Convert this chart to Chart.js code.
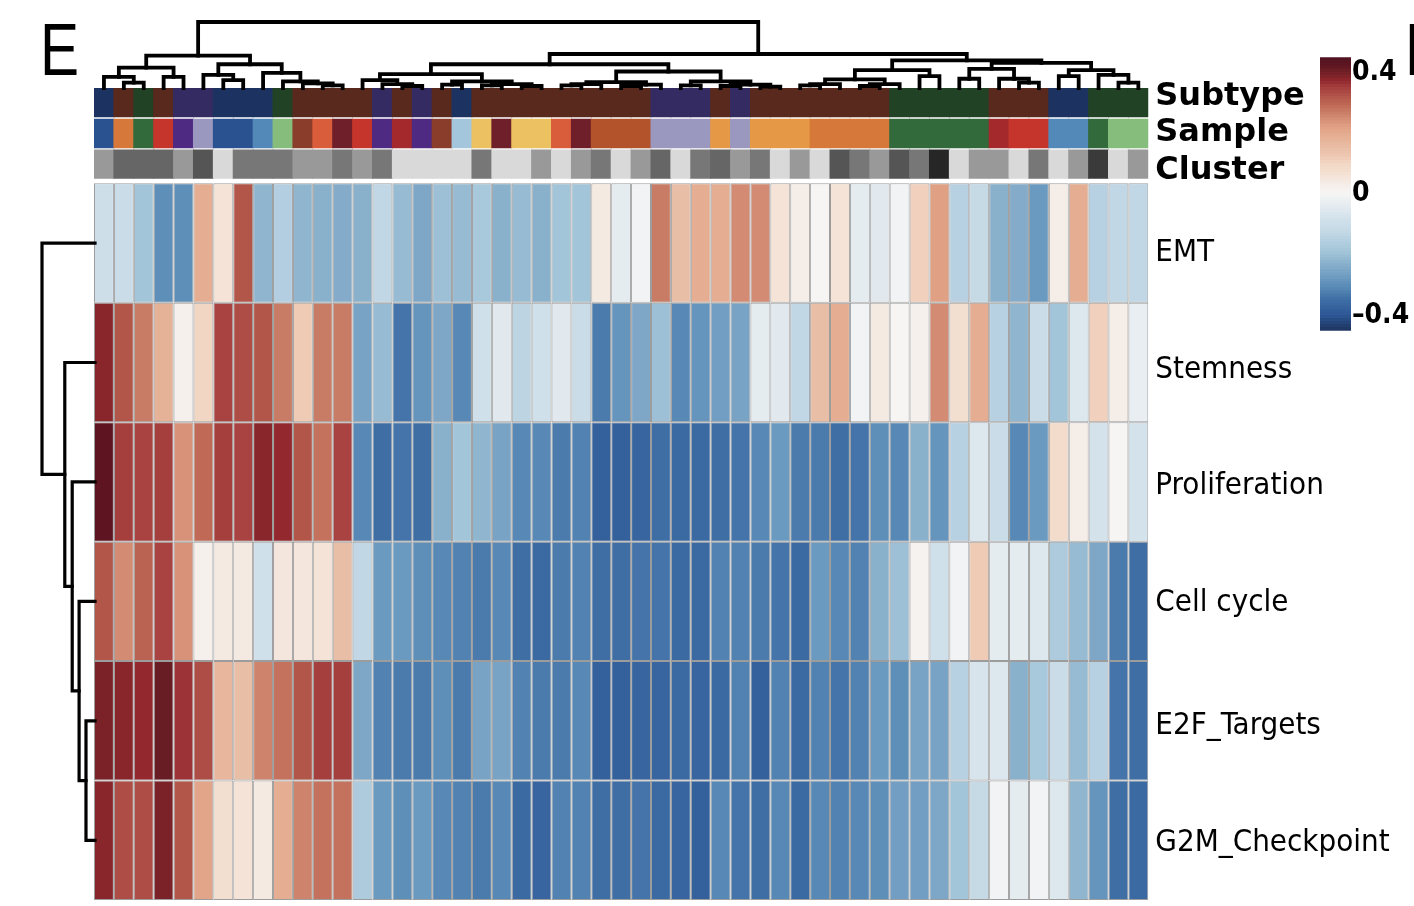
<!DOCTYPE html>
<html>
<head>
<meta charset="utf-8">
<script src="https://cdn.jsdelivr.net/npm/chart.js@4.4.1/dist/chart.umd.min.js"></script>
<style>
  body { margin: 0; background: #fff; }
  #wrap { position: relative; width: 1414px; height: 906px; overflow: hidden; background: #fff; }
  canvas { position: absolute; left: 0; top: 0; }
  .panel { position: absolute; font-family: 'Liberation Sans', Arial, sans-serif; font-size: 75px; line-height: 1; color: #000;
           transform: scaleX(0.78); transform-origin: 0 0; }
</style>
</head>
<body>
<div id="wrap">
  <canvas id="heat" width="1414" height="906"></canvas>
  <canvas id="colTree" width="1414" height="906"></canvas>
  <canvas id="rowTree" width="1414" height="906"></canvas>
  <canvas id="scale" width="1414" height="906"></canvas>
  <div class="panel" style="left:40px;top:12px">E</div>
  <div class="panel" style="left:1405px;top:12px">F</div>
</div>
<script>
// columns (samples) in dendrogram order
var COLS = ['1','2','3','4','5','6','7','8','9','10','11','12','13','14','15','16','17','18','19','20',
  '21','22','23','24','25','26','27','28','29','30','31','32','33','34','35','36','37','38','39','40',
  '41','42','43','44','45','46','47','48','49','50','51','52','53'];

// annotation codes per column
var SUBTYPE = [1,2,3,2,4,4,1,1,1,3, 2,2,2,2,4,2,4,2,1,2, 2,2,2,2,2,2,2,2,4,4, 4,2,4,2,2,2,2,2,2,2, 3,3,3,3,3,2,2,2,1,1, 3,3,3];
var SAMPLE  = [1,2,3,4,5,6,1,1,7,8, 9,10,11,4,5,12,5,9,13,14, 11,14,14,10,11,15,15,15,6,6, 6,16,6,16,16,16,2,2,2,2, 3,3,3,3,3,12,4,4,7,7, 3,8,8];
var CLUSTER = [2,4,4,4,2,5,1,3,3,3, 2,2,3,2,3,1,1,1,1,3, 1,1,2,1,2,3,1,2,4,1, 3,4,2,3,1,2,1,5,3,2, 5,3,7,1,2,2,1,3,1,2, 6,1,2];

// heatmap rows
var ROW_NAMES = ['EMT', 'Stemness', 'Proliferation', 'Cell cycle', 'E2F_Targets', 'G2M_Checkpoint'];
var EMT = [-0.10,-0.11,-0.19,-0.30,-0.30,0.19,0.06,0.32,-0.22,-0.16, -0.22,-0.23,-0.24,-0.23,-0.13,-0.21,-0.25,-0.20,-0.21,-0.18,
  -0.23,-0.21,-0.23,-0.19,-0.19,0.04,-0.04,-0.01,0.27,0.15, 0.19,0.19,0.25,0.25,0.06,0.03,0.00,0.06,-0.04,-0.05,
  -0.01,0.11,0.22,-0.15,-0.12,-0.23,-0.24,-0.28,0.03,0.19, -0.15,-0.13,-0.13];
var STEMNESS = [0.38,0.32,0.27,0.18,0.02,0.10,0.34,0.33,0.32,0.27, 0.12,0.27,0.27,-0.26,-0.21,-0.34,-0.29,-0.25,-0.31,-0.09,
  -0.05,-0.14,-0.09,-0.05,-0.11,-0.33,-0.29,-0.25,-0.20,-0.31, -0.29,-0.27,-0.26,-0.04,-0.05,-0.13,0.15,0.19,-0.01,0.04,
  0.00,0.02,0.25,0.07,0.19,-0.15,-0.22,-0.11,-0.19,-0.06, 0.11,0.03,-0.03];
var PROLIFERATION = [0.42,0.35,0.34,0.35,0.24,0.29,0.35,0.34,0.38,0.37, 0.32,0.28,0.34,-0.31,-0.35,-0.34,-0.35,-0.23,-0.19,-0.22,
  -0.26,-0.31,-0.31,-0.33,-0.32,-0.38,-0.38,-0.37,-0.35,-0.36, -0.36,-0.35,-0.34,-0.31,-0.28,-0.33,-0.33,-0.35,-0.34,-0.30,
  -0.31,-0.23,-0.29,-0.15,-0.06,-0.11,-0.31,-0.28,0.08,0.03, -0.08,0.00,-0.08];
var CELL_CYCLE = [0.32,0.25,0.30,0.34,0.24,0.02,0.04,0.04,-0.09,0.05, 0.05,0.06,0.15,-0.13,-0.28,-0.28,-0.30,-0.31,-0.32,-0.33,
  -0.31,-0.35,-0.36,-0.33,-0.32,-0.35,-0.35,-0.34,-0.34,-0.36, -0.36,-0.32,-0.32,-0.33,-0.34,-0.36,-0.28,-0.31,-0.32,-0.23,
  -0.20,0.01,-0.09,-0.01,0.12,-0.04,-0.04,-0.06,-0.17,-0.21, -0.25,-0.33,-0.35];
var E2F_TARGETS = [0.39,0.38,0.37,0.41,0.36,0.33,0.17,0.15,0.26,0.28, 0.32,0.35,0.35,-0.25,-0.32,-0.33,-0.33,-0.30,-0.33,-0.26,
  -0.26,-0.32,-0.33,-0.33,-0.31,-0.38,-0.38,-0.37,-0.37,-0.36, -0.37,-0.36,-0.32,-0.38,-0.32,-0.36,-0.32,-0.34,-0.32,-0.28,
  -0.30,-0.26,-0.26,-0.15,-0.07,-0.06,-0.23,-0.18,-0.11,-0.21, -0.15,-0.34,-0.35];
var G2M_CHECKPOINT = [0.38,0.33,0.33,0.39,0.32,0.21,0.07,0.06,0.04,0.19, 0.26,0.28,0.28,-0.17,-0.28,-0.30,-0.28,-0.31,-0.32,-0.33,
  -0.31,-0.36,-0.37,-0.32,-0.32,-0.35,-0.35,-0.34,-0.36,-0.37, -0.38,-0.31,-0.34,-0.35,-0.31,-0.36,-0.31,-0.32,-0.31,-0.30,
  -0.27,-0.27,-0.25,-0.19,-0.12,-0.01,-0.04,-0.01,-0.06,-0.22, -0.29,-0.35,-0.36];
var HEAT = [EMT, STEMNESS, PROLIFERATION, CELL_CYCLE, E2F_TARGETS, G2M_CHECKPOINT];

// dendrograms: [left, right, height]; leaves are column numbers / row indices
var COL_TREE = [
  [[[1,[2,3,0.08],0.17],[4,5,0.17],0.31],
   [[6,[7,8,0.12],0.2],[9,[10,[11,[12,13,0.04],0.07],0.1],0.23],0.36], 0.49],
  [[[[14,[15,[16,17,0.03],0.06],0.12],[[18,19,0.05],[[20,21,0.04],[22,23,0.03],0.06],0.1],0.21],
    [[[[24,25,0.04],26,0.06],[[27,28,0.03],29,0.05],0.09],[[30,31,0.04],[[32,33,0.03],[34,35,0.02],0.05],0.1],0.25], 0.36],
   [[[[[36,37,0.04],38,0.06],[[39,40,0.03],41,0.06],0.13],[42,43,0.18],0.27],
    [[[44,45,0.14],[46,[47,48,0.08],0.14],0.29],[[49,50,0.18],[51,[52,53,0.08],0.2],0.27],0.38], 0.42], 0.515],
  1.0];
var ROW_TREE = [0,[1,[2,[3,[4,5,0.17],0.3],0.43],0.57],1.0];

var SCALE_TICKS = [-0.4, 0, 0.4];

// ---- styles / layout ----
var SUBTYPE_COLORS = {1:'#1c3361', 2:'#5a291d', 3:'#224226', 4:'#352b63'};
var SAMPLE_COLORS = {1:'#2a5190', 2:'#d5783a', 3:'#326a3c', 4:'#c5352c', 5:'#4e2a82', 6:'#9b98c0', 7:'#5389b8', 8:'#86bc7c',
  9:'#8a3d2a', 10:'#d95c3b', 11:'#6e1f2a', 12:'#a3292d', 13:'#a4c6dc', 14:'#ebc162', 15:'#b3532b', 16:'#e59845'};
var CLUSTER_COLORS = {1:'#d9d9d9', 2:'#999999', 3:'#777777', 4:'#666666', 5:'#555555', 6:'#3a3a3a', 7:'#262626'};

var RAMP = [
  [-0.45,'#1d355f'],[-0.40,'#2d5795'],[-0.38,'#34619c'],[-0.35,'#3f6ea5'],[-0.33,'#4a7bac'],[-0.31,'#5889b6'],
  [-0.28,'#6b9ac0'],[-0.25,'#7ea7c7'],[-0.22,'#90b6cf'],[-0.19,'#a3c5d9'],[-0.15,'#b8d1e2'],[-0.12,'#c6dae6'],
  [-0.08,'#d3e2eb'],[-0.05,'#e1e9ef'],[-0.01,'#f1f3f4'],[0,'#f6f5f4'],[0.03,'#f5ede8'],[0.05,'#f4e6dc'],
  [0.07,'#f3dfd0'],[0.10,'#f2d6c4'],[0.12,'#efcab5'],[0.15,'#e9bea6'],[0.19,'#e5ae92'],[0.22,'#e0a084'],
  [0.25,'#d38b73'],[0.27,'#c87b65'],[0.29,'#c06956'],[0.32,'#b2564a'],[0.34,'#a84341'],[0.35,'#a43f3e'],
  [0.37,'#93282f'],[0.38,'#88262c'],[0.39,'#7a2228'],[0.41,'#681c24'],[0.42,'#5e1521'],[0.45,'#4f1220']
];

function rgb(h) { return [1,3,5].map(function (i) { return parseInt(h.substr(i, 2), 16); }); }
function colorOf(v) {
  if (v <= RAMP[0][0]) return RAMP[0][1];
  for (var i = 1; i < RAMP.length; i++) {
    if (v <= RAMP[i][0]) {
      var a = RAMP[i-1], b = RAMP[i], t = (v - a[0]) / (b[0] - a[0]);
      var ca = rgb(a[1]), cb = rgb(b[1]);
      return 'rgb(' + ca.map(function (c, k) { return Math.round(c + (cb[k] - c) * t); }).join(',') + ')';
    }
  }
  return RAMP[RAMP.length-1][1];
}

var W = 1414, H = 906;
var LEFT = 94, RIGHT = 1148.3;
var HEAT_TOP = 183.3, HEAT_BOTTOM = 900, ROW_H = (HEAT_BOTTOM - HEAT_TOP) / 6;
var ANNOT_BANDS = [[88.3, 116.7], [119.3, 147.7], [150, 178.3]];
var LABEL_Y = [97, 133, 171, 253, 370, 486, 603, 726, 843];
var COND = "'DejaVu Sans Condensed', 'DejaVu Sans', sans-serif";
var ANNOT_FONT = { family: "'DejaVu Sans', sans-serif", size: 32, weight: 'bold' };
var ROW_FONT = { family: COND, size: 31, weight: 'normal' };
var TICK_FONT = { family: COND, size: 28, weight: 'bold' };

Chart.defaults.animation = false;
Chart.defaults.events = [];
Chart.defaults.plugins.legend.display = false;
Chart.defaults.plugins.tooltip.enabled = false;
Chart.defaults.color = '#000';

// ---- heatmap with annotation bars ----
var datasets = [];
function band(y0, y1) { return COLS.map(function () { return [y0, y1]; }); }
[[SUBTYPE, SUBTYPE_COLORS, 'Subtype'], [SAMPLE, SAMPLE_COLORS, 'Sample'], [CLUSTER, CLUSTER_COLORS, 'Cluster']].forEach(function (a, i) {
  datasets.push({
    label: a[2],
    data: band(ANNOT_BANDS[i][0], ANNOT_BANDS[i][1]),
    backgroundColor: a[0].map(function (k) { return a[1][k]; }),
    borderWidth: 0,
    inflateAmount: 0.5
  });
});
HEAT.forEach(function (vals, r) {
  datasets.push({
    label: ROW_NAMES[r],
    data: band(HEAT_TOP + r * ROW_H, HEAT_TOP + (r + 1) * ROW_H),
    backgroundColor: vals.map(colorOf),
    borderColor: '#9c9c9c',
    borderWidth: 1,
    borderSkipped: false,
    inflateAmount: 0
  });
});

new Chart(document.getElementById('heat'), {
  type: 'bar',
  data: { labels: COLS, datasets: datasets },
  options: {
    responsive: false,
    layout: { padding: { left: LEFT, top: 88, bottom: H - HEAT_BOTTOM, right: 0 } },
    datasets: { bar: { grouped: false, barPercentage: 1, categoryPercentage: 1 } },
    scales: {
      x: { display: false },
      y: {
        position: 'right',
        reverse: true,
        min: 88,
        max: HEAT_BOTTOM,
        grid: { display: false, drawTicks: false },
        border: { display: false },
        afterBuildTicks: function (s) { s.ticks = LABEL_Y.map(function (v) { return { value: v }; }); },
        afterFit: function (s) { s.width = W - RIGHT; s.paddingTop = 0; s.paddingBottom = 0; },
        ticks: {
          autoSkip: false,
          padding: 7,
          color: '#000',
          font: function (ctx) { return ctx.index < 3 ? ANNOT_FONT : ROW_FONT; },
          callback: function (v, i) { return ['Subtype', 'Sample', 'Cluster'].concat(ROW_NAMES)[i]; }
        }
      }
    }
  }
});

// ---- dendrograms ----
function treeSegments(node, leafPos, segs) {
  if (!Array.isArray(node)) return { p: leafPos(node), h: 0 };
  var l = treeSegments(node[0], leafPos, segs), r = treeSegments(node[1], leafPos, segs), h = node[2];
  segs.push([[l.p, l.h], [l.p, h], [r.p, h], [r.p, r.h]]);
  return { p: (l.p + r.p) / 2, h: h };
}
function lineSets(segs, horizontal, width) {
  return segs.map(function (s) {
    return {
      data: s.map(function (pt) { return horizontal ? { x: pt[0], y: pt[1] } : { x: pt[1], y: pt[0] }; }),
      showLine: true, borderColor: '#000', borderWidth: width, pointRadius: 0,
      borderJoinStyle: 'miter', borderCapStyle: 'square', clip: false
    };
  });
}

var colSegs = [];
treeSegments(COL_TREE, function (c) { return c - 0.5; }, colSegs);
new Chart(document.getElementById('colTree'), {
  type: 'scatter',
  data: { datasets: lineSets(colSegs, true, 3.8) },
  options: {
    responsive: false,
    layout: { padding: { left: LEFT, right: W - RIGHT, top: 22, bottom: H - 88 } },
    scales: {
      x: { type: 'linear', display: false, min: 0, max: COLS.length },
      y: { type: 'linear', display: false, min: 0, max: 1 }
    }
  }
});

var rowSegs = [];
treeSegments(ROW_TREE, function (r) { return r + 0.5; }, rowSegs);
new Chart(document.getElementById('rowTree'), {
  type: 'scatter',
  data: { datasets: lineSets(rowSegs, false, 3.2) },
  options: {
    responsive: false,
    layout: { padding: { left: 42, right: W - 95, top: HEAT_TOP, bottom: H - HEAT_BOTTOM } },
    scales: {
      x: { type: 'linear', display: false, min: 0, max: 1, reverse: true },
      y: { type: 'linear', display: false, min: 0, max: 6, reverse: true }
    }
  }
});

// ---- colour scale ----
var scaleSets = [];
for (var k = 0; k < 90; k++) {
  var lo = -0.45 + k * 0.01;
  scaleSets.push({ data: [[lo, lo + 0.01]], backgroundColor: colorOf(lo + 0.005), borderWidth: 0, inflateAmount: 0.6 });
}
new Chart(document.getElementById('scale'), {
  type: 'bar',
  data: { labels: ['scale'], datasets: scaleSets },
  options: {
    responsive: false,
    layout: { padding: { left: 1320, top: 57.3, bottom: H - 330.7, right: 0 } },
    datasets: { bar: { grouped: false, barPercentage: 1, categoryPercentage: 1 } },
    scales: {
      x: { display: false },
      y: {
        position: 'right',
        min: -0.45,
        max: 0.45,
        grid: { display: false, drawTicks: false },
        border: { display: false },
        afterBuildTicks: function (s) { s.ticks = SCALE_TICKS.map(function (v) { return { value: v }; }); },
        afterFit: function (s) { s.width = W - 1351; s.paddingTop = 0; s.paddingBottom = 0; },
        ticks: {
          padding: 1,
          color: '#000',
          font: TICK_FONT,
          callback: function (v) { return v === 0 ? '0' : (v < 0 ? '\u2013' : '') + Math.abs(v).toFixed(1); }
        }
      }
    }
  }
});
</script>
</body>
</html>
